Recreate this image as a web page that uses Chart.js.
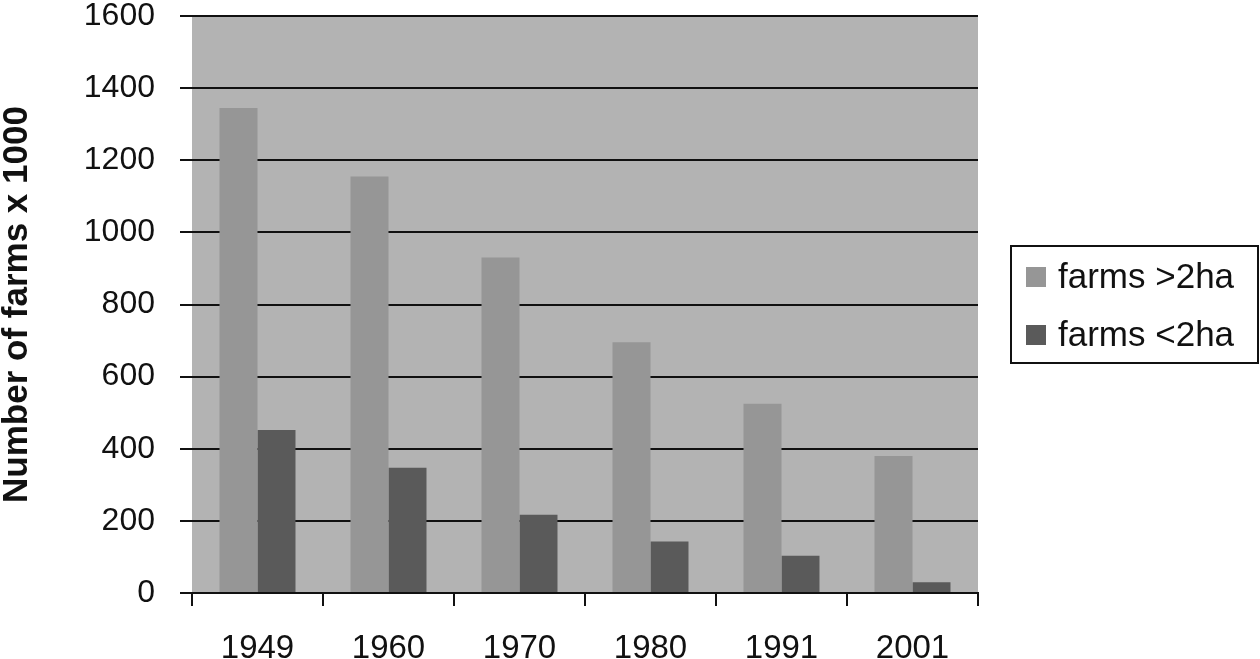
<!DOCTYPE html>
<html>
<head>
<meta charset="utf-8">
<script src="https://cdn.jsdelivr.net/npm/chart.js@4"></script>
<style>
html,body{margin:0;padding:0;background:#fff;}
#wrap{position:relative;width:1260px;height:659px;}
</style>
</head>
<body>
<div id="wrap"><canvas id="c" width="1260" height="659"></canvas></div>
<script>
const years = ['1949','1960','1970','1980','1991','2001'];
const farmsOver2ha = [1345, 1155, 930, 695, 525, 380];
const farmsUnder2ha = [452, 347, 217, 143, 103, 30];
const seriesLabels = ['farms >2ha', 'farms <2ha'];
const yTicks = [0, 200, 400, 600, 800, 1000, 1200, 1400, 1600];

const FONT = '"Liberation Sans", Arial, sans-serif';

const bgPlugin = {
  id: 'plotBg',
  beforeDraw(chart) {
    const {ctx, chartArea: a} = chart;
    ctx.save();
    ctx.fillStyle = '#b3b3b3';
    ctx.fillRect(a.left, a.top, a.right - a.left, a.bottom - a.top);
    ctx.restore();
  }
};

const legendPlugin = {
  id: 'boxLegend',
  afterDraw(chart) {
    const ctx = chart.ctx;
    ctx.save();
    ctx.strokeStyle = '#111';
    ctx.lineWidth = 2;
    ctx.strokeRect(1011, 246, 247, 117);
    ctx.font = '35px ' + FONT;
    ctx.textBaseline = 'middle';
    ctx.textAlign = 'left';
    chart.data.datasets.forEach((ds, i) => {
      const y = 277 + i * 58;
      ctx.fillStyle = ds.backgroundColor;
      ctx.fillRect(1026, y - 10, 20, 20);
      ctx.fillStyle = '#111';
      ctx.fillText(ds.label, 1058, y + 1);
    });
    ctx.restore();
  }
};

new Chart(document.getElementById('c'), {
  type: 'bar',
  data: {
    labels: years,
    datasets: [
      {label: seriesLabels[0], data: farmsOver2ha, backgroundColor: '#969696', borderWidth: 0},
      {label: seriesLabels[1], data: farmsUnder2ha, backgroundColor: '#5a5a5a', borderWidth: 0}
    ]
  },
  options: {
    responsive: false,
    animation: false,
    layout: {padding: {top: 16, right: 282, bottom: 0, left: 0}},
    datasets: {bar: {categoryPercentage: 0.58, barPercentage: 1.0}},
    plugins: {legend: {display: false}, tooltip: {enabled: false}},
    scales: {
      x: {
        grid: {display: true, drawOnChartArea: false, drawTicks: true, tickLength: 13, color: '#111', lineWidth: 2, offset: true},
        border: {display: true, color: '#111', width: 2},
        ticks: {color: '#111', font: {family: FONT, size: 33}, padding: 23, maxRotation: 0},
        afterFit(s) { s.height = 66; s.paddingLeft = 0; s.paddingRight = 0; }
      },
      y: {
        min: 0, max: 1600,
        afterBuildTicks(s) { s.ticks = yTicks.map(v => ({value: v})); },
        grid: {color: '#111', lineWidth: 2, tickLength: 12, drawTicks: true},
        border: {display: false},
        ticks: {color: '#111', font: {family: FONT, size: 32}, padding: 25, callback: v => String(v)},
        title: {display: true, text: 'Number of farms x 1000', color: '#111', font: {family: FONT, size: 35, weight: 'bold'}, padding: {top: -4, bottom: 0}},
        afterFit(s) { s.width = 192; s.paddingTop = 0; s.paddingBottom = 0; }
      }
    }
  },
  plugins: [bgPlugin, legendPlugin]
});
</script>
</body>
</html>
